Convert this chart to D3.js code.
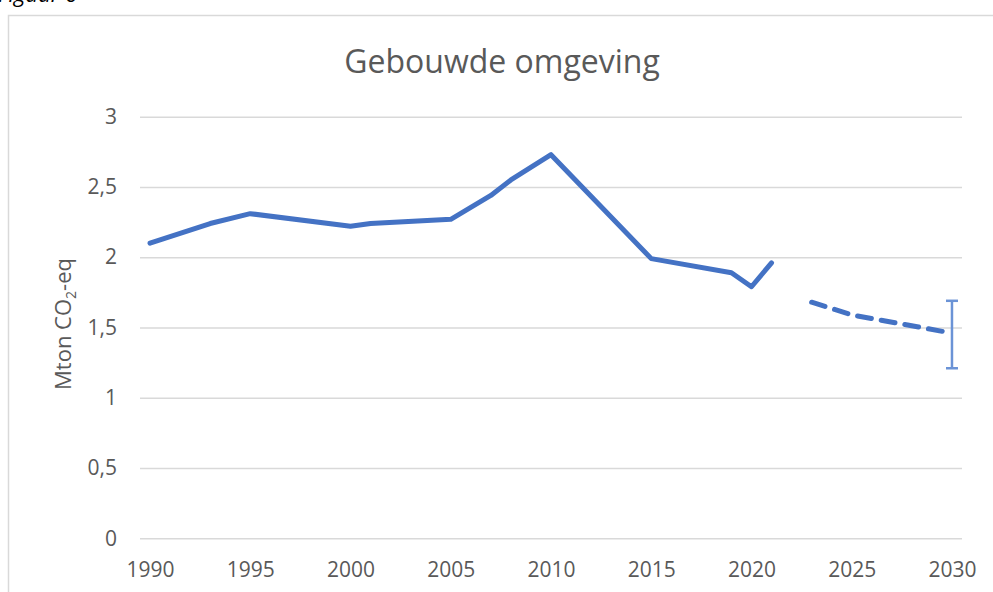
<!DOCTYPE html>
<html>
<head>
<meta charset="utf-8">
<script src="https://cdn.jsdelivr.net/npm/d3@7"></script>
<style>
  body { margin: 0; background: #fff; }
  svg text { font-family: "Open Sans", "Noto Sans", sans-serif; fill: #595959; }
</style>
</head>
<body>
<svg class="line-chart"></svg>
<script>
'use strict';

// measured series (Mton CO2-eq)
var histYears = [1990, 1993, 1995, 2000, 2001, 2005, 2007, 2008, 2010, 2015, 2019, 2020, 2021];
var histValues = [2.10, 2.24, 2.31, 2.22, 2.24, 2.27, 2.44, 2.55, 2.73, 1.99, 1.89, 1.79, 1.96];

// projection (dashed)
var projYears = [2023, 2025, 2030];
var projValues = [1.68, 1.59, 1.46];

// bandwidth at 2030
var rangeYear = 2030;
var rangeLow = 1.21;
var rangeHigh = 1.69;

var xTicks = [1990, 1995, 2000, 2005, 2010, 2015, 2020, 2025, 2030];
var yTicks = [0, 0.5, 1, 1.5, 2, 2.5, 3];

var svgWidth = 993,
    svgHeight = 592,
    plot = { left: 140, right: 962, top: 116.7, bottom: 538.3 };

var svg = d3.select('svg.line-chart')
    .attr('width', svgWidth)
    .attr('height', svgHeight);

// outer frame (runs off the right and bottom edge)
svg.append('rect')
    .attr('x', 8.5).attr('y', 15.5)
    .attr('width', 1100).attr('height', 700)
    .attr('fill', 'none').attr('stroke', '#d9d9d9').attr('stroke-width', 1.5);

// cut off caption above the frame
svg.append('text')
    .attr('x', -2).attr('y', 2)
    .style('font-size', '22px').style('font-style', 'italic').style('fill', '#000')
    .text('Figuur 6');

var xScale = d3.scaleLinear().domain([1989.5, 2030.5]).range([plot.left, plot.right]);
var yScale = d3.scaleLinear().domain([0, 3]).range([plot.bottom, plot.top]);

// gridlines
svg.append('g')
    .attr('transform', 'translate(' + plot.left + ',0)')
    .call(d3.axisLeft(yScale).tickValues(yTicks).tickSize(-(plot.right - plot.left)).tickFormat(''))
    .call(function(g) {
        g.select('.domain').remove();
        g.selectAll('line').attr('stroke', '#d9d9d9').attr('stroke-width', 1.5);
    });

// y labels
svg.append('g')
    .attr('transform', 'translate(120,0)')
    .call(d3.axisLeft(yScale).tickValues(yTicks).tickSize(0)
        .tickFormat(function(d) { return String(d).replace('.', ','); }))
    .call(function(g) {
        g.select('.domain').remove();
        g.selectAll('text').style('font-size', '21px').attr('fill', '#595959');
    });

// x labels
svg.append('g')
    .attr('transform', 'translate(0,' + (plot.bottom + 21) + ')')
    .call(d3.axisBottom(xScale).tickValues(xTicks).tickSize(0).tickFormat(d3.format('d')))
    .call(function(g) {
        g.select('.domain').remove();
        g.selectAll('text').style('font-size', '21px').attr('fill', '#595959');
    });

// title
svg.append('text')
    .attr('x', 502).attr('y', 73)
    .attr('text-anchor', 'middle')
    .style('font-size', '32px')
    .text('Gebouwde omgeving');

// y axis title
var yTitle = svg.append('text')
    .attr('transform', 'translate(71,324) rotate(-90)')
    .attr('text-anchor', 'middle')
    .style('font-size', '22px');
yTitle.append('tspan').text('Mton CO');
yTitle.append('tspan').attr('dy', 5).style('font-size', '14px').text('2');
yTitle.append('tspan').attr('dy', -5).text('-eq');

var line = d3.line()
    .x(function(d) { return xScale(d[0]); })
    .y(function(d) { return yScale(d[1]); });

svg.append('path')
    .attr('d', line(d3.zip(histYears, histValues)))
    .attr('fill', 'none')
    .attr('stroke', '#4472c4')
    .attr('stroke-width', 5)
    .attr('stroke-linejoin', 'round')
    .attr('stroke-linecap', 'round');

svg.append('path')
    .attr('d', line(d3.zip(projYears, projValues)))
    .attr('fill', 'none')
    .attr('stroke', '#4472c4')
    .attr('stroke-width', 5)
    .attr('stroke-dasharray', '14,10')
    .attr('stroke-linecap', 'round');

// error bar
var ex = xScale(rangeYear);
var eb = svg.append('g').attr('stroke', '#6b93d6').attr('stroke-width', 2.5);
eb.append('line').attr('x1', ex).attr('x2', ex).attr('y1', yScale(rangeHigh)).attr('y2', yScale(rangeLow));
eb.append('line').attr('x1', ex - 6).attr('x2', ex + 6).attr('y1', yScale(rangeHigh)).attr('y2', yScale(rangeHigh));
eb.append('line').attr('x1', ex - 6).attr('x2', ex + 6).attr('y1', yScale(rangeLow)).attr('y2', yScale(rangeLow));
</script>
</body>
</html>
